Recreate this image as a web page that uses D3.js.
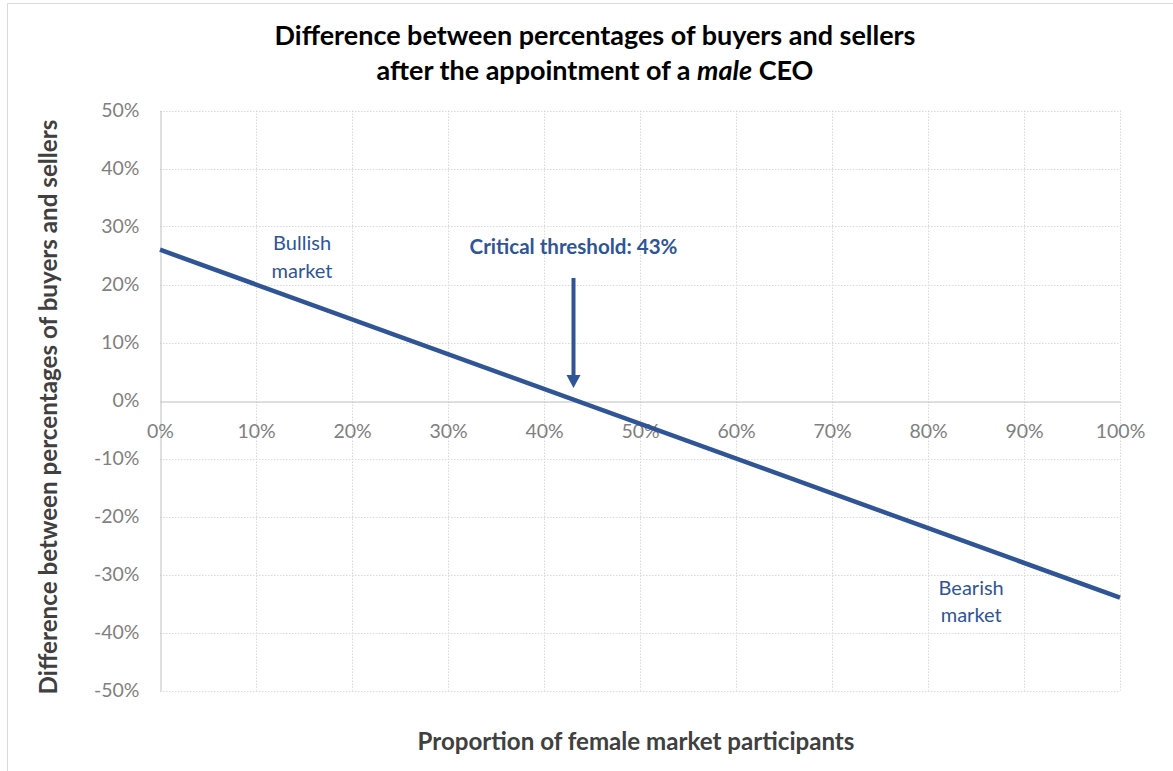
<!DOCTYPE html>
<html><head><meta charset="utf-8">
<script src="https://cdn.jsdelivr.net/npm/d3@7"></script>
<style>
html,body{margin:0;padding:0;background:#fff;}
svg{display:block;font-family:Lato,"Open Sans",sans-serif;}
</style></head>
<body>
<svg id="chart" width="1173" height="771"></svg>
<script>
const titleLines = ["Difference between percentages of buyers and sellers", "after the appointment of a ", "male", " CEO"];
const xLabel = "Proportion of female market participants";
const yLabel = "Difference between percentages of buyers and sellers";
const xTicks = [0, 0.1, 0.2, 0.3, 0.4, 0.5, 0.6, 0.7, 0.8, 0.9, 1.0];
const yTicks = [0.5, 0.4, 0.3, 0.2, 0.1, 0, -0.1, -0.2, -0.3, -0.4, -0.5];
const lineX = [0, 1];
const lineY = [0.26, -0.34];
const threshold = 0.43;
const thresholdLabel = "Critical threshold: 43%";
const bullishLabel = ["Bullish", "market"];
const bearishLabel = ["Bearish", "market"];
const bullishPos = [0.148, 0.26];
const bearishPos = [0.845, -0.335];

const svg = d3.select("#chart");
const W = 1173, H = 771;
const m = {left: 160, right: 53, top: 110.5, bottom: 80.5};
const x = d3.scaleLinear().domain([0, 1]).range([m.left, W - m.right]);
const y = d3.scaleLinear().domain([-0.5, 0.5]).range([H - m.bottom, m.top]);
const blue = "#2F5597";
const fmt = d => Math.round(d * 100) + "%";

function fit(sel, target) {
  const w = sel.node().getComputedTextLength();
  const fs = parseFloat(sel.attr("font-size"));
  sel.attr("font-size", fs * target / w);
}

// outer frame
svg.append("path").attr("d", `M7.5,771 V3.5 H1173`).attr("fill", "none").attr("stroke", "#d9d9d9").attr("stroke-width", 1);

// gridlines
const g = svg.append("g");
g.selectAll(".hg").data(yTicks.filter(d => d !== 0)).join("line")
  .attr("x1", m.left).attr("x2", W - m.right)
  .attr("y1", d => Math.round(y(d)) + 0.5).attr("y2", d => Math.round(y(d)) + 0.5)
  .attr("stroke", "#d9d9d9").attr("stroke-dasharray", "1.5,1.5");
g.selectAll(".vg").data(xTicks.filter(d => d !== 0)).join("line")
  .attr("y1", m.top).attr("y2", H - m.bottom)
  .attr("x1", d => Math.round(x(d)) + 0.5).attr("x2", d => Math.round(x(d)) + 0.5)
  .attr("stroke", "#d9d9d9").attr("stroke-dasharray", "1.5,1.5");

// axes
const yAxis = d3.axisLeft(y).tickValues(yTicks).tickFormat(fmt).tickSize(0).tickPadding(21);
const ya = svg.append("g").attr("transform", `translate(${m.left + 0.5},0)`).call(yAxis);
ya.select(".domain").attr("stroke", "#bfbfbf");
ya.selectAll("text").attr("fill", "#7f7f7f").attr("font-size", 19.5).attr("font-family", "Lato,sans-serif");

const xAxis = d3.axisBottom(x).tickValues(xTicks).tickFormat(fmt).tickSize(0).tickPadding(23);
const xa = svg.append("g").attr("transform", `translate(0,${Math.round(y(0)) + 0.5})`).call(xAxis);
xa.select(".domain").attr("stroke", "#bfbfbf");
xa.selectAll("text").attr("fill", "#7f7f7f").attr("font-size", 19.5).attr("font-family", "Lato,sans-serif");

// series line
const pts = lineX.map((d, i) => [d, lineY[i]]);
svg.append("path").datum(pts)
  .attr("d", d3.line().x(d => x(d[0])).y(d => y(d[1])))
  .attr("fill", "none").attr("stroke", blue).attr("stroke-width", 4.5);

// title
const t1 = svg.append("text").attr("x", 595).attr("y", 45).attr("text-anchor", "middle")
  .attr("font-weight", "bold").attr("font-size", 24).attr("fill", "#000").text(titleLines[0]);
fit(t1, 641);
const fs1 = t1.attr("font-size");
const t2 = svg.append("text").attr("x", 595).attr("y", 80).attr("text-anchor", "middle")
  .attr("font-weight", "bold").attr("font-size", fs1).attr("fill", "#000");
t2.append("tspan").text(titleLines[1]);
t2.append("tspan").attr("font-style", "italic").text(titleLines[2]);
t2.append("tspan").text(titleLines[3]);

// axis titles
const xt = svg.append("text").attr("x", 636).attr("y", 750).attr("text-anchor", "middle")
  .attr("font-weight", "bold").attr("font-size", 21).attr("fill", "#404040").text(xLabel);
fit(xt, 437);
const yt = svg.append("text").attr("transform", "translate(57,407) rotate(-90)").attr("text-anchor", "middle")
  .attr("font-weight", "bold").attr("font-size", 21).attr("fill", "#404040").text(yLabel);
fit(yt, 575);

// annotation arrow
const ax = Math.round(x(threshold)) + 0.5;
svg.append("line").attr("x1", ax).attr("x2", ax).attr("y1", 278).attr("y2", 376)
  .attr("stroke", blue).attr("stroke-width", 4);
svg.append("path").attr("d", `M${ax - 7},375 L${ax + 7},375 L${ax},388 Z`).attr("fill", blue);
const ct = svg.append("text").attr("x", ax).attr("y", 254).attr("text-anchor", "middle")
  .attr("font-weight", "bold").attr("font-size", 17).attr("fill", blue).text(thresholdLabel);
fit(ct, 208);

// bullish / bearish
function twoLine(lines, pos, dy) {
  const t = svg.append("text").attr("text-anchor", "middle").attr("font-size", 20).attr("fill", blue);
  lines.forEach((s, i) => t.append("tspan").attr("x", x(pos[0])).attr("y", y(pos[1]) + i * dy).text(s));
}
twoLine(bullishLabel, bullishPos, 28);
twoLine(bearishLabel, bearishPos, 27);
</script>
</body></html>
